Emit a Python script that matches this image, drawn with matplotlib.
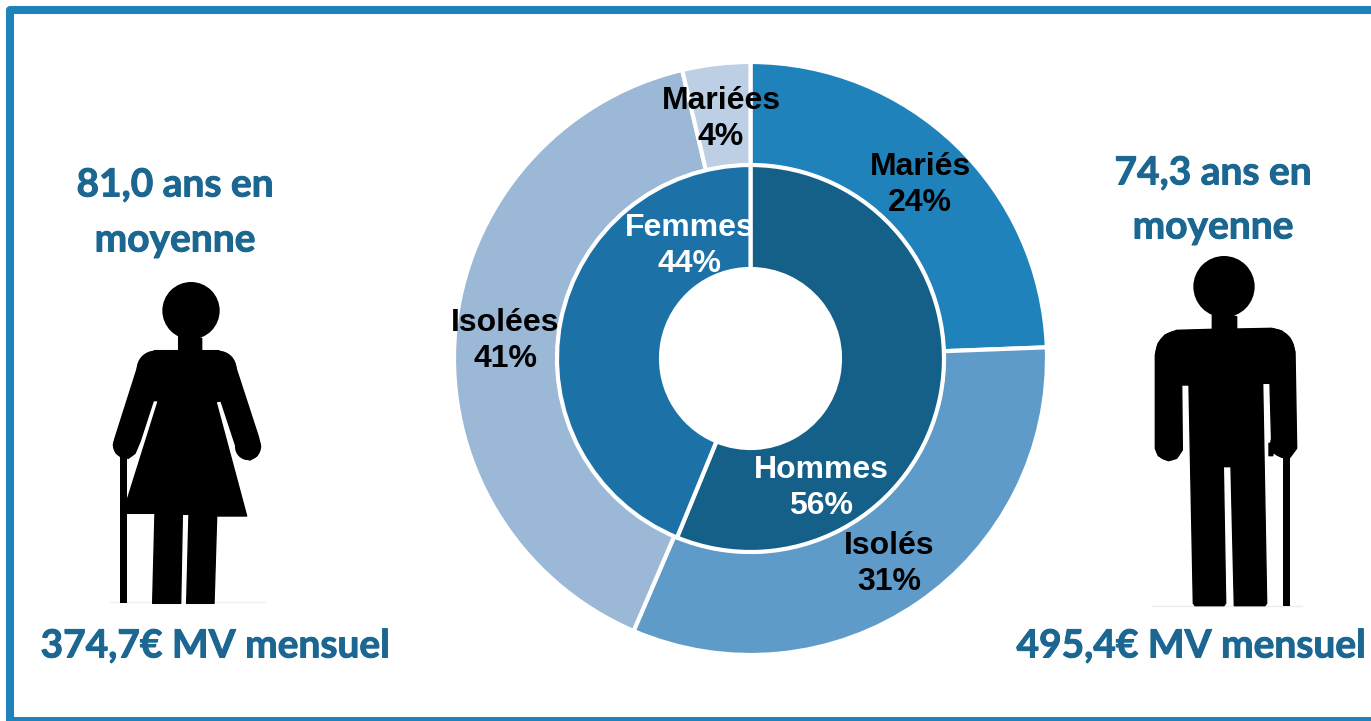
import numpy as np
import matplotlib
matplotlib.use('Agg')
import matplotlib.pyplot as plt
import matplotlib.patheffects as pe
from matplotlib.patches import Circle, Polygon, Rectangle

W, H = 1371, 721

# donut values, in percent (labels as printed)
outer_values = [24.4, 32.05, 39.85, 3.7]
outer_colors = ['#1f82bb', '#5f9bc9', '#9bb8d7', '#bccfe4']
outer_labels = ['Mariés\n24%', 'Isolés\n31%', 'Isolées\n41%', 'Mariées\n4%']
outer_pos = [(920, 185), (889, 564), (505, 341), (721, 119)]

inner_values = [56.2, 43.8]
inner_colors = ['#156089', '#1c72a6']
inner_labels = ['Hommes\n56%', 'Femmes\n44%']
inner_pos = [(821, 488), (690, 246)]

# silhouettes, traced in zoomed crops (3x)
woman = [(266,200),(266,242),(195,242),(165,255),(145,285),(75,505),(70,525),(78,548),(95,562),
         (115,565),(135,550),(150,515),(190,392),(205,392),(110,695),(110,730),(195,730),(188,1000),
         (272,1000),(277,733),(297,733),(290,1000),(372,1000),(380,738),(470,738),(378,395),(393,393),
         (443,545),(460,565),(480,570),(500,558),(512,530),(505,500),(435,285),(415,258),(385,242),
         (335,242),(335,205)]
woman_round = [(195, 297, 55), (385, 297, 55), (106, 527, 37), (474, 531, 39)]
man = [(247,200),(247,253),(140,256),(105,270),(85,295),(76,330),(76,610),(85,632),(115,647),(140,640),
       (157,615),(155,420),(177,420),(190,1075),(195,1082),(282,1082),(287,1075),(280,665),(303,665),
       (313,1082),(405,1082),(410,1075),(398,415),(420,415),(425,595),(417,595),(417,632),(428,632),
       (430,622),(455,637),(480,637),(500,610),(495,320),(480,280),(455,258),(425,250),(320,252),(320,215)]
man_round = [(146, 326, 70), (425, 320, 70), (116, 607, 40), (460, 597, 40)]

TEXT_BLUE = '#1b6791'
FRAME = '#1f82bb'

fig = plt.figure(figsize=(W / 100, H / 100), dpi=100)
ax = fig.add_axes([0, 0, 1, 1])


def flip(y):
    return H - y


def trace(points, x0, y0):
    return [(x0 + x / 3, flip(y0 + y / 3)) for x, y in points]


def person(points, x0, y0, head, r, cane, rounds):
    ax.add_patch(Polygon(trace(points, x0, y0), closed=True, fc='black', ec='black', lw=1, joinstyle='round'))
    ax.add_patch(Circle((x0 + head[0] / 3, flip(y0 + head[1] / 3)), r / 3, fc='black', ec='none'))
    for cx, cy, cr in rounds:
        ax.add_patch(Circle((x0 + cx / 3, flip(y0 + cy / 3)), cr / 3, fc='black', ec='none'))
    cx, cy, cw, ch = cane
    ax.add_patch(Rectangle((x0 + cx / 3, flip(y0 + (cy + ch) / 3)), cw / 3, ch / 3, fc='black', ec='none'))


# frame: the right side runs off the picture
ax.plot([W + 5, 10, 10, W + 5], [flip(10), flip(10), flip(721), flip(721)], color=FRAME, lw=5.8,
        solid_joinstyle='round', zorder=1)

ax.pie(outer_values, radius=296.5, center=(750.5, flip(358.5)), startangle=90, counterclock=False,
       colors=outer_colors, wedgeprops=dict(width=103.5, edgecolor='white', linewidth=3))
ax.pie(inner_values, radius=193.5, center=(750.5, flip(358.5)), startangle=90, counterclock=False,
       colors=inner_colors, wedgeprops=dict(width=104, edgecolor='white', linewidth=3))

for lab, (x, y) in zip(outer_labels, outer_pos):
    ax.text(x, flip(y), lab, color='black', family='Liberation Sans', weight='bold', fontsize=23,
            ha='center', va='center', linespacing=1.22, multialignment='center')
for lab, (x, y) in zip(inner_labels, inner_pos):
    ax.text(x, flip(y), lab, color='white', family='Liberation Sans', weight='bold', fontsize=23,
            ha='center', va='center', linespacing=1.22, multialignment='center')

person(woman, 90, 270, (303, 122), 86, (90, 560, 22, 440), woman_round)
person(man, 1130, 245, (282, 125), 92, (458, 630, 23, 452), man_round)

# baselines under the figures
ax.plot([110, 265], [flip(602), flip(602)], color='#f0f0f0', lw=1, zorder=0)
ax.plot([1152, 1302], [flip(605.5), flip(605.5)], color='#ececec', lw=1, zorder=0)

for s, x, y in [('81,0 ans en', 175, 185), ('moyenne', 175, 240), ('74,3 ans en', 1213, 173),
                ('moyenne', 1213, 227), ('374,7€ MV mensuel', 215, 646), ('495,4€ MV mensuel', 1191, 646)]:
    t = ax.text(x, flip(y), s, color=TEXT_BLUE, family='Lato', weight='bold', fontsize=28,
                ha='center', va='center')
    t.set_path_effects([pe.withStroke(linewidth=0.7, foreground=TEXT_BLUE)])

ax.set_xlim(0, W)
ax.set_ylim(0, H)
ax.set_aspect('auto')
ax.axis('off')
fig.savefig('out.png', dpi=100, facecolor='white')
